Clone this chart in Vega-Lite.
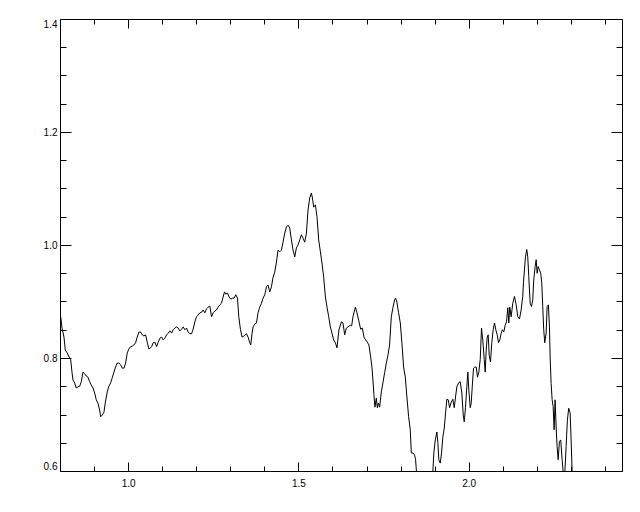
{
  "$schema": "https://vega.github.io/schema/vega-lite/v6.json",
  "autosize": "none",
  "padding": {"left": 60, "top": 19, "right": 18, "bottom": 41},
  "width": 562,
  "height": 452,
  "background": "white",
  "config": {
    "view": {"stroke": "black", "strokeWidth": 1},
    "axis": {"grid": false, "domain": false, "title": null, "tickColor": "black", "tickWidth": 1, "labelColor": "black", "labelFont": "Liberation Sans", "labelFontSize": 10}
  },
  "data": {"values": [
    {"x":0.8021,"y":0.873},{"x":0.8059,"y":0.853},{"x":0.8117,"y":0.837},{"x":0.8155,"y":0.814},{"x":0.8214,"y":0.809},{"x":0.8264,"y":0.802},{"x":0.8314,"y":0.797},{"x":0.8352,"y":0.775},{"x":0.8381,"y":0.761},{"x":0.8431,"y":0.756},{"x":0.8478,"y":0.747},{"x":0.8528,"y":0.749},{"x":0.8578,"y":0.750},{"x":0.8625,"y":0.758},{"x":0.8674,"y":0.775},{"x":0.8724,"y":0.772},{"x":0.8771,"y":0.768},{"x":0.8821,"y":0.766},{"x":0.8871,"y":0.758},{"x":0.8918,"y":0.752},{"x":0.8968,"y":0.747},{"x":0.9018,"y":0.738},{"x":0.9065,"y":0.726},{"x":0.9114,"y":0.720},{"x":0.9164,"y":0.708},{"x":0.9194,"y":0.696},{"x":0.9240,"y":0.699},{"x":0.9290,"y":0.704},{"x":0.9328,"y":0.720},{"x":0.9387,"y":0.740},{"x":0.9428,"y":0.749},{"x":0.9487,"y":0.756},{"x":0.9534,"y":0.765},{"x":0.9584,"y":0.775},{"x":0.9633,"y":0.784},{"x":0.9680,"y":0.791},{"x":0.9730,"y":0.791},{"x":0.9780,"y":0.788},{"x":0.9827,"y":0.782},{"x":0.9877,"y":0.782},{"x":0.9927,"y":0.791},{"x":0.9974,"y":0.809},
    {"x":1.0023,"y":0.816},{"x":1.0073,"y":0.820},{"x":1.0120,"y":0.821},{"x":1.0170,"y":0.823},{"x":1.0220,"y":0.827},{"x":1.0267,"y":0.837},{"x":1.0317,"y":0.846},{"x":1.0367,"y":0.846},{"x":1.0413,"y":0.841},{"x":1.0463,"y":0.839},{"x":1.0513,"y":0.841},{"x":1.0560,"y":0.828},{"x":1.0610,"y":0.816},{"x":1.0660,"y":0.818},{"x":1.0689,"y":0.820},{"x":1.0736,"y":0.827},{"x":1.0786,"y":0.828},{"x":1.0836,"y":0.820},{"x":1.0883,"y":0.828},{"x":1.0933,"y":0.835},{"x":1.0982,"y":0.837},{"x":1.1029,"y":0.832},{"x":1.1079,"y":0.835},{"x":1.1129,"y":0.841},{"x":1.1176,"y":0.844},{"x":1.1226,"y":0.848},{"x":1.1276,"y":0.844},{"x":1.1323,"y":0.850},{"x":1.1372,"y":0.853},{"x":1.1422,"y":0.855},{"x":1.1469,"y":0.853},{"x":1.1519,"y":0.848},{"x":1.1569,"y":0.851},{"x":1.1616,"y":0.855},{"x":1.1666,"y":0.850},{"x":1.1716,"y":0.853},{"x":1.1762,"y":0.846},{"x":1.1812,"y":0.843},{"x":1.1862,"y":0.843},{"x":1.1909,"y":0.851},{"x":1.1959,"y":0.864},
    {"x":1.2009,"y":0.873},{"x":1.2056,"y":0.876},{"x":1.2106,"y":0.880},{"x":1.2155,"y":0.881},{"x":1.2202,"y":0.885},{"x":1.2252,"y":0.880},{"x":1.2302,"y":0.887},{"x":1.2349,"y":0.890},{"x":1.2399,"y":0.892},{"x":1.2449,"y":0.873},{"x":1.2496,"y":0.880},{"x":1.2545,"y":0.883},{"x":1.2595,"y":0.885},{"x":1.2642,"y":0.890},{"x":1.2692,"y":0.894},{"x":1.2742,"y":0.897},{"x":1.2789,"y":0.908},{"x":1.2829,"y":0.917},{"x":1.2868,"y":0.913},{"x":1.2918,"y":0.915},{"x":1.2965,"y":0.908},{"x":1.3015,"y":0.904},{"x":1.3064,"y":0.906},{"x":1.3111,"y":0.906},{"x":1.3161,"y":0.912},{"x":1.3211,"y":0.906},{"x":1.3249,"y":0.873},{"x":1.3299,"y":0.850},{"x":1.3346,"y":0.837},{"x":1.3405,"y":0.839},{"x":1.3475,"y":0.843},{"x":1.3522,"y":0.837},{"x":1.3572,"y":0.827},{"x":1.3601,"y":0.823},{"x":1.3639,"y":0.844},{"x":1.3669,"y":0.855},{"x":1.3718,"y":0.860},{"x":1.3768,"y":0.862},{"x":1.3815,"y":0.880},{"x":1.3865,"y":0.890},{"x":1.3915,"y":0.897},{"x":1.3962,"y":0.906},
    {"x":1.4012,"y":0.912},{"x":1.4062,"y":0.926},{"x":1.4109,"y":0.929},{"x":1.4158,"y":0.917},{"x":1.4208,"y":0.926},{"x":1.4255,"y":0.943},{"x":1.4305,"y":0.952},{"x":1.4355,"y":0.970},{"x":1.4402,"y":0.991},{"x":1.4452,"y":0.988},{"x":1.4501,"y":0.991},{"x":1.4548,"y":1.005},{"x":1.4598,"y":1.021},{"x":1.4648,"y":1.032},{"x":1.4695,"y":1.035},{"x":1.4745,"y":1.030},{"x":1.4795,"y":1.009},{"x":1.4842,"y":0.991},{"x":1.4892,"y":0.979},{"x":1.4941,"y":0.995},{"x":1.4988,"y":1.000},{"x":1.5038,"y":1.009},{"x":1.5088,"y":1.018},{"x":1.5135,"y":1.012},{"x":1.5185,"y":1.005},{"x":1.5235,"y":1.021},{"x":1.5282,"y":1.062},{"x":1.5331,"y":1.083},{"x":1.5381,"y":1.092},{"x":1.5411,"y":1.083},{"x":1.5449,"y":1.067},{"x":1.5499,"y":1.071},{"x":1.5545,"y":1.050},{"x":1.5595,"y":1.009},{"x":1.5645,"y":0.988},{"x":1.5692,"y":0.968},{"x":1.5742,"y":0.943},{"x":1.5792,"y":0.908},{"x":1.5839,"y":0.890},{"x":1.5889,"y":0.873},{"x":1.5938,"y":0.855},{"x":1.5985,"y":0.844},
    {"x":1.6035,"y":0.832},{"x":1.6085,"y":0.827},{"x":1.6132,"y":0.818},{"x":1.6190,"y":0.850},{"x":1.6261,"y":0.864},{"x":1.6308,"y":0.862},{"x":1.6358,"y":0.841},{"x":1.6408,"y":0.853},{"x":1.6455,"y":0.855},{"x":1.6525,"y":0.858},{"x":1.6563,"y":0.857},{"x":1.6601,"y":0.873},{"x":1.6672,"y":0.890},{"x":1.6718,"y":0.880},{"x":1.6768,"y":0.867},{"x":1.6827,"y":0.851},{"x":1.6877,"y":0.853},{"x":1.6924,"y":0.837},{"x":1.6974,"y":0.832},{"x":1.7023,"y":0.828},{"x":1.7070,"y":0.823},{"x":1.7120,"y":0.802},{"x":1.7158,"y":0.784},{"x":1.7188,"y":0.761},{"x":1.7217,"y":0.735},{"x":1.7246,"y":0.713},{"x":1.7287,"y":0.729},{"x":1.7317,"y":0.712},{"x":1.7346,"y":0.720},{"x":1.7384,"y":0.713},{"x":1.7434,"y":0.740},{"x":1.7481,"y":0.756},{"x":1.7531,"y":0.774},{"x":1.7581,"y":0.791},{"x":1.7628,"y":0.805},{"x":1.7677,"y":0.823},{"x":1.7727,"y":0.873},{"x":1.7774,"y":0.889},{"x":1.7824,"y":0.903},{"x":1.7853,"y":0.906},{"x":1.7891,"y":0.899},{"x":1.7941,"y":0.880},{"x":1.7991,"y":0.862},
    {"x":1.8038,"y":0.827},{"x":1.8088,"y":0.784},{"x":1.8138,"y":0.766},{"x":1.8185,"y":0.731},{"x":1.8235,"y":0.696},{"x":1.8284,"y":0.673},{"x":1.8314,"y":0.632},{"x":1.8361,"y":0.632},{"x":1.8411,"y":0.628},{"x":1.8440,"y":0.620},{"x":1.8484,"y":0.584},{"x":1.8587,"y":0.558},{"x":1.8733,"y":0.549},{"x":1.8880,"y":0.570},{"x":1.8947,"y":0.600},{"x":1.8976,"y":0.632},{"x":1.9018,"y":0.655},{"x":1.9065,"y":0.669},{"x":1.9094,"y":0.650},{"x":1.9123,"y":0.620},{"x":1.9164,"y":0.614},{"x":1.9202,"y":0.632},{"x":1.9240,"y":0.660},{"x":1.9282,"y":0.676},{"x":1.9320,"y":0.703},{"x":1.9358,"y":0.727},{"x":1.9399,"y":0.726},{"x":1.9437,"y":0.712},{"x":1.9487,"y":0.722},{"x":1.9534,"y":0.727},{"x":1.9575,"y":0.712},{"x":1.9613,"y":0.731},{"x":1.9651,"y":0.749},{"x":1.9701,"y":0.756},{"x":1.9751,"y":0.758},{"x":1.9798,"y":0.738},{"x":1.9839,"y":0.699},{"x":1.9868,"y":0.687},{"x":1.9906,"y":0.713},{"x":1.9944,"y":0.749},{"x":1.9974,"y":0.775},
    {"x":2.0003,"y":0.743},{"x":2.0044,"y":0.712},{"x":2.0073,"y":0.720},{"x":2.0103,"y":0.749},{"x":2.0141,"y":0.782},{"x":2.0179,"y":0.784},{"x":2.0220,"y":0.784},{"x":2.0258,"y":0.766},{"x":2.0296,"y":0.775},{"x":2.0337,"y":0.797},{"x":2.0375,"y":0.853},{"x":2.0413,"y":0.832},{"x":2.0455,"y":0.797},{"x":2.0484,"y":0.775},{"x":2.0513,"y":0.814},{"x":2.0543,"y":0.837},{"x":2.0572,"y":0.841},{"x":2.0601,"y":0.805},{"x":2.0639,"y":0.793},{"x":2.0677,"y":0.827},{"x":2.0718,"y":0.850},{"x":2.0757,"y":0.862},{"x":2.0795,"y":0.850},{"x":2.0836,"y":0.841},{"x":2.0874,"y":0.827},{"x":2.0912,"y":0.832},{"x":2.0953,"y":0.844},{"x":2.0991,"y":0.850},{"x":2.1029,"y":0.846},{"x":2.1070,"y":0.858},{"x":2.1109,"y":0.864},{"x":2.1147,"y":0.889},{"x":2.1176,"y":0.862},{"x":2.1205,"y":0.890},{"x":2.1246,"y":0.873},{"x":2.1293,"y":0.897},{"x":2.1343,"y":0.909},{"x":2.1393,"y":0.894},{"x":2.1440,"y":0.873},{"x":2.1490,"y":0.869},{"x":2.1539,"y":0.885},{"x":2.1586,"y":0.909},{"x":2.1607,"y":0.933},{"x":2.1636,"y":0.956},{"x":2.1666,"y":0.979},{"x":2.1704,"y":0.992},{"x":2.1733,"y":0.979},{"x":2.1763,"y":0.944},{"x":2.1804,"y":0.897},{"x":2.1842,"y":0.891},{"x":2.1880,"y":0.903},{"x":2.1909,"y":0.938},{"x":2.1950,"y":0.962},{"x":2.1980,"y":0.974},
    {"x":2.2009,"y":0.950},{"x":2.2038,"y":0.962},{"x":2.2076,"y":0.956},{"x":2.2114,"y":0.950},{"x":2.2144,"y":0.933},{"x":2.2173,"y":0.891},{"x":2.2202,"y":0.850},{"x":2.2232,"y":0.827},{"x":2.2273,"y":0.844},{"x":2.2302,"y":0.891},{"x":2.2340,"y":0.894},{"x":2.2370,"y":0.855},{"x":2.2390,"y":0.802},{"x":2.2419,"y":0.755},{"x":2.2449,"y":0.726},{"x":2.2478,"y":0.714},{"x":2.2507,"y":0.673},{"x":2.2536,"y":0.726},{"x":2.2566,"y":0.678},{"x":2.2595,"y":0.643},{"x":2.2625,"y":0.620},{"x":2.2663,"y":0.652},{"x":2.2701,"y":0.655},{"x":2.2742,"y":0.620},{"x":2.2771,"y":0.600},{"x":2.2809,"y":0.581},{"x":2.2859,"y":0.643},{"x":2.2897,"y":0.690},{"x":2.2935,"y":0.711},{"x":2.2977,"y":0.703},{"x":2.3006,"y":0.655},{"x":2.3035,"y":0.600},{"x":2.3079,"y":0.558}
  ]},
  "resolve": {"axis": {"x": "independent", "y": "independent"}},
  "layer": [
    {
      "mark": {"type": "line", "color": "black", "strokeWidth": 1, "clip": true},
      "encoding": {
        "x": {"field": "x", "type": "quantitative", "scale": {"domain": [0.8, 2.45], "nice": false, "zero": false},
              "axis": {"orient": "bottom", "values": [1.0, 1.5, 2.0], "format": ".1f", "tickSize": -9, "labelPadding": 16}},
        "y": {"field": "y", "type": "quantitative", "scale": {"domain": [0.6, 1.4], "nice": false, "zero": false},
              "axis": {"orient": "left", "values": [0.6, 0.8, 1.0, 1.2, 1.4], "format": ".1f", "tickSize": -11, "labelPadding": 14, "labelFlush": true}}
      }
    },
    {
      "mark": {"type": "line", "opacity": 0},
      "encoding": {
        "x": {"field": "x", "type": "quantitative", "scale": {"domain": [0.8, 2.45], "nice": false, "zero": false},
              "axis": {"orient": "bottom", "values": [0.9, 1.1, 1.2, 1.3, 1.4, 1.6, 1.7, 1.8, 1.9, 2.1, 2.2, 2.3, 2.4], "tickSize": -5, "labels": false}},
        "y": {"field": "y", "type": "quantitative", "scale": {"domain": [0.6, 1.4], "nice": false, "zero": false},
              "axis": {"orient": "left", "values": [0.65, 0.7, 0.75, 0.85, 0.9, 0.95, 1.05, 1.1, 1.15, 1.25, 1.3, 1.35], "tickSize": -6, "labels": false}}
      }
    },
    {
      "mark": {"type": "line", "opacity": 0},
      "encoding": {
        "x": {"field": "x", "type": "quantitative", "scale": {"domain": [0.8, 2.45], "nice": false, "zero": false},
              "axis": {"orient": "top", "values": [1.0, 1.5, 2.0], "tickSize": -9, "labels": false}},
        "y": {"field": "y", "type": "quantitative", "scale": {"domain": [0.6, 1.4], "nice": false, "zero": false},
              "axis": {"orient": "right", "values": [0.6, 0.8, 1.0, 1.2, 1.4], "tickSize": -11, "labels": false}}
      }
    },
    {
      "mark": {"type": "line", "opacity": 0},
      "encoding": {
        "x": {"field": "x", "type": "quantitative", "scale": {"domain": [0.8, 2.45], "nice": false, "zero": false},
              "axis": {"orient": "top", "values": [0.9, 1.1, 1.2, 1.3, 1.4, 1.6, 1.7, 1.8, 1.9, 2.1, 2.2, 2.3, 2.4], "tickSize": -5, "labels": false}},
        "y": {"field": "y", "type": "quantitative", "scale": {"domain": [0.6, 1.4], "nice": false, "zero": false},
              "axis": {"orient": "right", "values": [0.65, 0.7, 0.75, 0.85, 0.9, 0.95, 1.05, 1.1, 1.15, 1.25, 1.3, 1.35], "tickSize": -6, "labels": false}}
      }
    }
  ]
}
